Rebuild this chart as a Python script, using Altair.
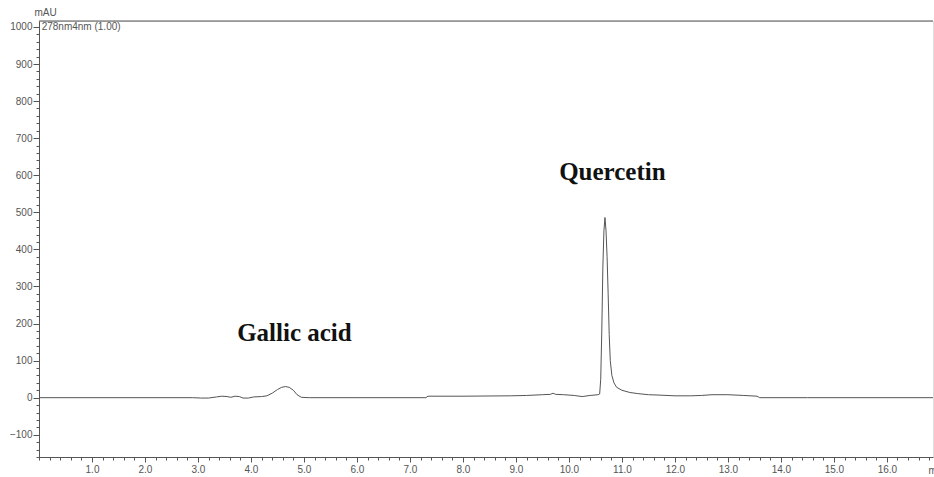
import altair as alt
import pandas as pd

# Chromatogram data (retention time in min, absorbance in mAU)
times = [0.0, 2.9, 3.05, 3.2, 3.35, 3.45, 3.55, 3.62, 3.7, 3.78, 3.85, 3.95, 4.05, 4.2, 4.3,
         4.4, 4.5, 4.58, 4.65, 4.72, 4.8, 4.87, 4.95, 5.1, 6.0, 7.3, 7.34, 8.0, 8.9, 9.2,
         9.5, 9.65, 9.7, 9.75, 9.9, 10.1, 10.25, 10.4, 10.55, 10.58, 10.60, 10.62, 10.64,
         10.66, 10.68, 10.70, 10.72, 10.74, 10.76, 10.78, 10.81, 10.85, 10.9, 11.0, 11.15,
         11.3, 11.5, 11.7, 12.0, 12.3, 12.5, 12.7, 13.0, 13.3, 13.55, 13.6, 14.5, 16.87]
mau = [0, 0, -1, -1, 2, 4, 3, 1, 4, 3, -1, -1, 2, 3, 5,
       12, 22, 28, 30, 28, 20, 8, 1, 0, 0, 0, 4, 4, 5, 6,
       8, 9, 12, 9, 8, 6, 3, 6, 8, 10, 50, 180, 350,
       450, 486, 450, 380, 280, 170, 100, 60, 40, 28, 20, 14,
       11, 8, 7, 5, 5, 6, 8, 8, 6, 4, 0, 0, 0]

peak_names = ["Gallic acid", "Quercetin"]
peak_label_t = [4.82, 10.82]
peak_label_v = [154, 586]

x_major = [float(i) for i in range(1, 17)]
x_minor = [round(i * 0.2, 1) for i in range(0, 85)]
y_major = list(range(-100, 1001, 100))
y_minor = list(range(-160, 1017, 20))

channel_label = ["278nm4nm (1.00)"]
channel_t = [0.05]
channel_v = [1000]

X_DOMAIN = [0, 16.87]
Y_DOMAIN = [-160, 1016]
W, H = 894, 436

df = pd.DataFrame({"t": times, "v": mau})
df_lab = pd.DataFrame({"name": peak_names, "t": peak_label_t, "v": peak_label_v})
df_ch = pd.DataFrame({"name": channel_label, "t": channel_t, "v": channel_v})

axis_common = dict(
    domainColor="#555555", tickColor="#555555", labelColor="#555555",
    labelFont="Liberation Sans", labelFontSize=10, grid=False,
    titleFont="Liberation Sans", titleFontSize=10, titleColor="#555555",
    titleFontWeight="normal",
)

xs = alt.Scale(domain=X_DOMAIN, nice=False, zero=False)
ys = alt.Scale(domain=Y_DOMAIN, nice=False, zero=False)

line = alt.Chart(df).mark_line(color="#555555", strokeWidth=1, clip=True).encode(
    x=alt.X("t:Q", scale=xs, axis=alt.Axis(
        values=x_major, format=".1f", tickSize=5, labelPadding=2, orient="bottom",
        title="min", titleX=889, titleY=13, titleAlign="left", titleBaseline="middle",
        **axis_common)),
    y=alt.Y("v:Q", scale=ys, axis=alt.Axis(
        values=y_major, format="d", tickSize=6, labelPadding=1, orient="left",
        title="mAU", titleAngle=0, titleX=-5, titleY=-4, titleAlign="left",
        titleBaseline="bottom", **axis_common)),
)

minor = alt.Chart(df).mark_line(opacity=0).encode(
    x=alt.X("t:Q", scale=xs, axis=alt.Axis(
        values=x_minor, tickSize=3, labels=False, domain=False, orient="bottom",
        title=None, tickColor="#555555", grid=False)),
    y=alt.Y("v:Q", scale=ys, axis=alt.Axis(
        values=y_minor, tickSize=3, labels=False, domain=False, orient="left",
        title=None, tickColor="#555555", grid=False)),
)

labels = alt.Chart(df_lab).mark_text(
    font="Liberation Serif", fontSize=25, fontWeight="bold", color="#111111",
    align="center", baseline="alphabetic",
).encode(x=alt.X("t:Q", scale=xs, axis=None), y=alt.Y("v:Q", scale=ys, axis=None),
         text="name:N")

chan = alt.Chart(df_ch).mark_text(
    font="Liberation Sans", fontSize=10, color="#555555", align="left", baseline="middle",
).encode(x=alt.X("t:Q", scale=xs, axis=None), y=alt.Y("v:Q", scale=ys, axis=None),
         text="name:N")

top_border = alt.Chart(df_ch).mark_rule(color="#555555", strokeWidth=1).encode(
    x=alt.value(0), x2=alt.value(W), y=alt.value(0)
)

chart = alt.layer(line, minor, labels, chan, top_border).resolve_axis(
    x="independent", y="independent"
).properties(
    width=W, height=H,
    autosize=alt.AutoSizeParams(type="none"),
    padding={"left": 39, "top": 21, "right": 1, "bottom": 20},
).configure_view(stroke=None).configure(background="white")

chart.save("out.html", embed_options={"renderer": "svg", "actions": False})
